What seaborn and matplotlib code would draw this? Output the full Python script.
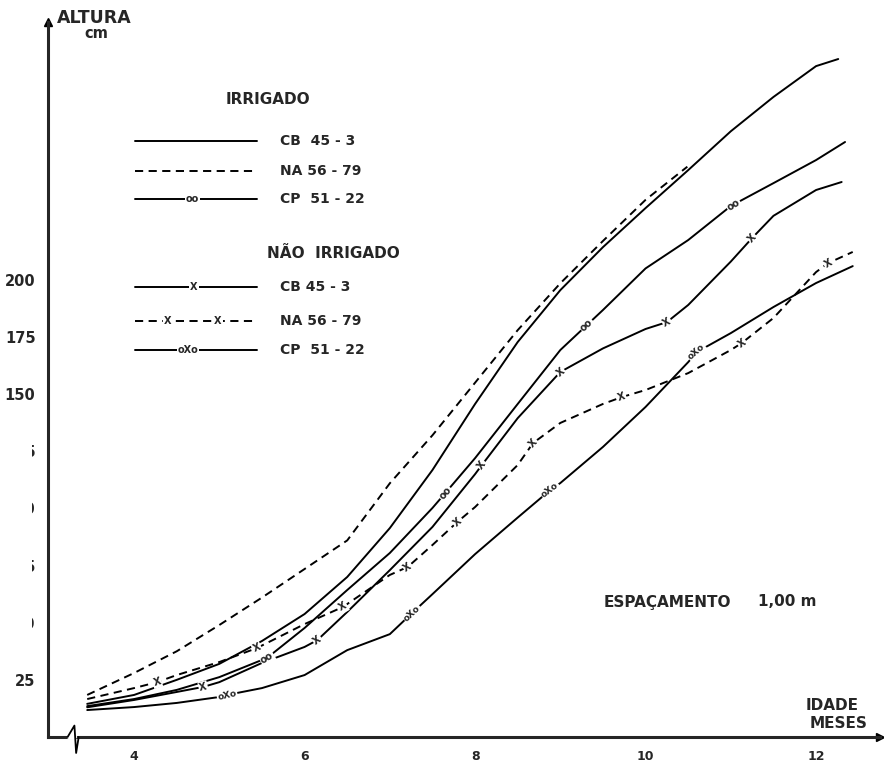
import numpy as np
import pandas as pd
import seaborn as sns
import matplotlib.pyplot as plt
from matplotlib.patches import Rectangle

# --- dados (idade em meses, altura em cm) ---
# irrigado
meses_cb_i = [3.45, 4.0, 4.5, 5.0, 5.5, 6.0, 6.5, 7.0, 7.5, 8.0, 8.5, 9.0, 9.5, 10.0, 10.5, 11.0, 11.5, 12.0, 12.26]
alt_cb_i = [14.5, 18.4, 25, 32, 42, 53.8, 70, 91.4, 116.8, 145.7, 172.8, 195.5, 214.3, 231.4, 248, 265, 280, 293.5, 296.6]

meses_na_i = [3.45, 4.0, 4.5, 5.0, 5.5, 6.0, 6.5, 7.0, 7.5, 8.0, 8.5, 9.0, 9.5, 10.0, 10.49]
alt_na_i = [18.4, 28, 37.5, 49, 61, 73.5, 86, 111, 132, 155, 178, 198.5, 217, 235, 249.5]

meses_cp_i = [3.45, 4.0, 4.5, 5.0, 5.56, 6.0, 6.5, 7.0, 7.5, 7.65, 8.0, 8.5, 9.0, 9.5, 10.0, 10.5, 11.0, 11.5, 12.0, 12.34]
alt_cp_i = [13.5, 16.6, 20.6, 26.2, 34.6, 47.7, 64.3, 80.5, 100.2, 106.7, 122, 145.7, 169.3, 186.8, 205, 217.4, 232.3, 242.3, 252.4, 260.3]

# nao irrigado
meses_cb_n = [3.45, 4.0, 4.5, 4.81, 5.0, 5.5, 6.0, 6.15, 6.5, 7.0, 7.5, 8.0, 8.08, 8.5, 9.0, 9.5, 10.0, 10.25, 10.5, 11.0, 11.25, 11.5, 12.0, 12.3]
alt_cb_n = [13, 16.2, 19.7, 21.9, 24, 32.4, 39.4, 42.4, 54.7, 73, 91.9, 115, 119, 139.5, 159.7, 170, 178.5, 181.5, 189, 208, 218.3, 228, 239.3, 242.8]

meses_na_n = [3.45, 4.0, 4.27, 4.5, 5.0, 5.44, 6.0, 6.45, 7.0, 7.21, 7.5, 7.79, 8.0, 8.5, 8.68, 9.0, 9.5, 9.72, 10.0, 10.5, 11.0, 11.13, 11.5, 12.0, 12.14, 12.43]
alt_na_n = [16.6, 21.4, 24, 27.1, 32.8, 38.9, 49.4, 56.9, 70.9, 74.4, 84, 94, 100.6, 119, 128.6, 137.4, 145.7, 148.7, 151.8, 159.2, 169.3, 172.4, 183.3, 203.4, 207.3, 212.2]

meses_cp_n = [3.45, 4.0, 4.5, 5.0, 5.09, 5.5, 6.0, 6.5, 7.0, 7.26, 7.5, 8.0, 8.5, 8.88, 9.0, 9.5, 10.0, 10.5, 10.6, 11.0, 11.5, 12.0, 12.43]
alt_cp_n = [11.8, 13.1, 14.9, 17.5, 18.4, 21.4, 27.1, 38, 45, 54.2, 62.5, 80, 96, 108, 111.1, 126.9, 144.4, 164, 168.4, 176.7, 188.1, 198.6, 206]

# posicoes dos simbolos ao longo das curvas (meses)
marc_cp_i = [5.56, 7.65, 9.31, 11.03]
marc_cb_n = [4.81, 6.15, 8.08, 9.0, 10.25, 11.25]
marc_na_n = [4.27, 5.44, 6.45, 7.21, 7.79, 8.68, 9.72, 11.13, 12.14]
marc_cp_n = [5.09, 7.26, 8.88, 10.6]

yticks = [25, 50, 75, 100, 125, 150, 175, 200, 225, 250, 275, 300]
xticks = [4, 6, 8, 10, 12]

W, H = 884, 767
sns.set_style("white")
plt.rcParams["font.family"] = ["DejaVu Sans"]
fig = plt.figure(figsize=(W / 100, H / 100), dpi=100)
ax = fig.add_axes([48 / W, 30 / H, 832 / W, 715 / H])
ax.set_xlim(2.99, 12.75)
ax.set_ylim(0, 312.8)

dash = (4.2, 2.8)
series = [
    (meses_cb_i, alt_cb_i, None),
    (meses_na_i, alt_na_i, dash),
    (meses_cp_i, alt_cp_i, None),
    (meses_cb_n, alt_cb_n, None),
    (meses_na_n, alt_na_n, dash),
    (meses_cp_n, alt_cp_n, None),
]
for mx, my, ds in series:
    df = pd.DataFrame({"idade": mx, "altura": my})
    l = sns.lineplot(data=df, x="idade", y="altura", ax=ax, color="black",
                     lw=1.4, estimator=None, sort=False)
    if ds is not None:
        l.lines[-1].set_dashes(ds)

# simbolos em cima das linhas
def simbolos(mx, my, pos, txt, fs):
    for p in pos:
        y0 = np.interp(p, mx, my)
        a = ax.transData.transform([(p - 0.08, np.interp(p - 0.08, mx, my)),
                                    (p + 0.08, np.interp(p + 0.08, mx, my))])
        ang = np.degrees(np.arctan2(a[1, 1] - a[0, 1], a[1, 0] - a[0, 0]))
        ax.text(p, y0, txt, fontsize=fs, fontweight="bold", ha="center", va="center",
                rotation=ang, rotation_mode="anchor", zorder=5,
                bbox=dict(facecolor="white", edgecolor="none", pad=0.6))

simbolos(meses_cp_i, alt_cp_i, marc_cp_i, "oo", 7)
simbolos(meses_cb_n, alt_cb_n, marc_cb_n, "X", 7)
simbolos(meses_na_n, alt_na_n, marc_na_n, "X", 7)
simbolos(meses_cp_n, alt_cp_n, marc_cp_n, "oXo", 6.5)

# eixos
sns.despine(ax=ax)
for s in ["left", "bottom"]:
    ax.spines[s].set_linewidth(2.2)
ax.set_xticks(xticks)
ax.set_xticklabels([str(t) for t in xticks], fontsize=9, fontweight="bold")
ax.set_yticks(yticks)
ax.set_yticklabels([str(t) for t in yticks], fontsize=10.5, fontweight="bold")
ax.tick_params(axis="both", direction="out", length=6, width=1.5, pad=3)
ax.set_xlabel("")
ax.set_ylabel("")
ax.plot(1, 0, ">", color="black", ms=6, transform=ax.transAxes, clip_on=False)
ax.plot(0, 1, "^", color="black", ms=6, transform=ax.transAxes, clip_on=False)
# quebra do eixo x
ax.plot([3.24, 3.31], [0, 0], color="white", lw=3, clip_on=False, zorder=6)
ax.plot([3.22, 3.3, 3.32, 3.35], [0, 5, -7, 0], color="black", lw=1.3,
        clip_on=False, zorder=7)

# rotulos do eixo y apagados no original (so restam fragmentos)
fig.patches.append(Rectangle((0, 1 - 665 / H), 32 / W, 235 / H, transform=fig.transFigure,
                             facecolor="white", edgecolor="none", zorder=10))
fig.patches.append(Rectangle((0, 1 - 245 / H), 39 / W, 215 / H, transform=fig.transFigure,
                             facecolor="white", edgecolor="none", zorder=10))

def ftxt(x, y, s, fs=9.5, **kw):
    fig.text(x / W, 1 - y / H, s, fontsize=fs, fontweight="bold", va="center", **kw)

ftxt(57, 18, "ALTURA", 12.5)
ftxt(84, 34, "cm", 10.5)
ftxt(806, 706, "IDADE", 11)
ftxt(810, 723, "MESES", 11)
ftxt(604, 602, "ESPAÇAMENTO", 11)
ftxt(758, 602, "1,00 m", 11)

# legenda desenhada a mao
ftxt(226, 100, "IRRIGADO", 11)
ftxt(267, 253, "NÃO  IRRIGADO", 11)
leg = [
    (141, "CB  45 - 3", None, []),
    (171, "NA 56 - 79", dash, []),
    (199, "CP  51 - 22", None, [(192, "oo")]),
    (287, "CB 45 - 3", None, [(194, "X")]),
    (321, "NA 56 - 79", dash, [(168, "X"), (218, "X")]),
    (350, "CP  51 - 22", None, [(188, "oXo")]),
]
for yy, lab, ds, sym in leg:
    ln, = ax.plot([135 / W, 257 / W], [1 - yy / H, 1 - yy / H], color="black", lw=1.4,
                  transform=fig.transFigure, clip_on=False)
    if ds is not None:
        ln.set_dashes(ds)
    for xs, t in sym:
        fig.text(xs / W, 1 - yy / H, t, fontsize=7, fontweight="bold", ha="center",
                 va="center", bbox=dict(facecolor="white", edgecolor="none", pad=0.6))
    ftxt(280, yy, lab, 10)

fig.savefig("out.png", dpi=100)
